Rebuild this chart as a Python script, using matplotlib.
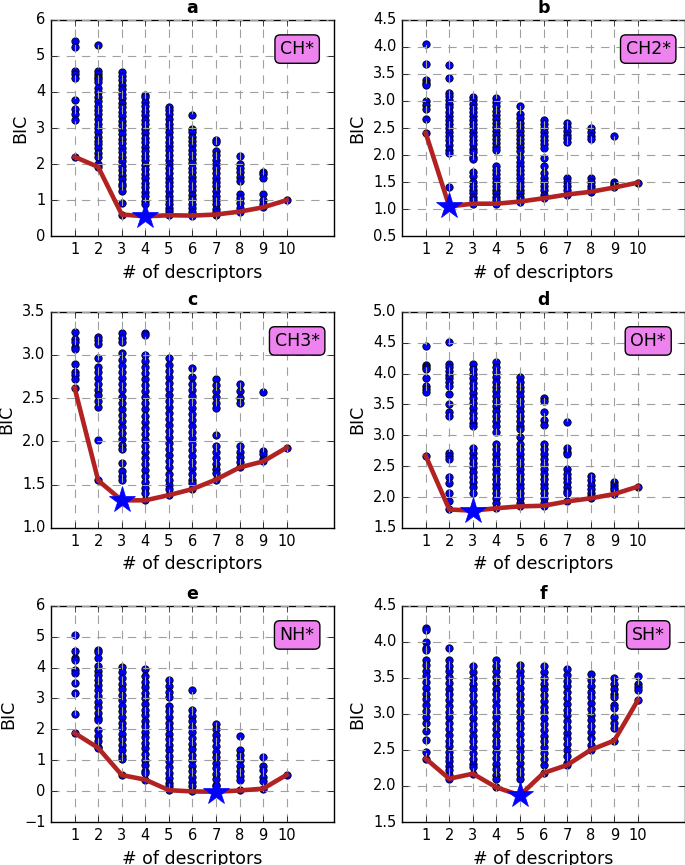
import numpy as np
import matplotlib
matplotlib.use('Agg')
import matplotlib.pyplot as plt

plt.style.use('classic')
plt.rcParams['figure.facecolor'] = 'white'
plt.rcParams['savefig.facecolor'] = 'white'
plt.rcParams['font.family'] = ['DejaVu Sans']

n_desc = [1, 2, 3, 4, 5, 6, 7, 8, 9, 10]

# BIC values of every model, one list per number of descriptors
a_pts = [
    [5.42, 5.26, 4.59, 4.49, 4.40, 3.77, 3.53, 3.40, 3.23, 2.20],
    [5.30, 4.58, 4.50, 4.42, 4.35, 4.28, 4.10, 4.00, 3.86, 3.75, 3.62, 3.50, 3.38, 3.25, 3.12, 3.00, 2.88, 2.76,
     2.65, 2.56, 2.44, 2.32, 2.20, 2.00, 1.92],
    [4.56, 4.45, 4.32, 4.20, 4.08, 3.95, 3.83, 3.70, 3.58, 3.45, 3.33, 3.20, 3.08, 2.95, 2.83, 2.70, 2.58, 2.45,
     2.33, 2.20, 2.08, 1.95, 1.83, 1.70, 1.58, 1.45, 1.40, 1.24, 0.93, 0.60],
    [3.93, 3.85, 3.72, 3.60, 3.48, 3.35, 3.22, 3.10, 2.98, 2.85, 2.72, 2.60, 2.48, 2.35, 2.22, 2.10, 1.98, 1.85,
     1.72, 1.60, 1.48, 1.35, 1.22, 1.10, 0.98, 0.88, 0.55],
    [3.58, 3.50, 3.38, 3.25, 3.12, 3.00, 2.88, 2.75, 2.62, 2.50, 2.38, 2.25, 2.12, 2.00, 1.88, 1.75, 1.62, 1.50,
     1.38, 1.25, 1.12, 1.00, 0.88, 0.78, 0.70, 0.58],
    [3.35, 2.98, 2.88, 2.76, 2.65, 2.52, 2.40, 2.28, 2.15, 2.02, 1.90, 1.78, 1.65, 1.52, 1.40, 1.28, 1.15, 1.02,
     0.90, 0.78, 0.68, 0.57],
    [2.68, 2.60, 2.37, 2.25, 2.12, 2.00, 1.88, 1.75, 1.62, 1.50, 1.38, 1.25, 1.12, 1.00, 0.88, 0.76, 0.66, 0.60],
    [2.23, 2.00, 1.90, 1.78, 1.65, 1.53, 1.16, 1.05, 0.92, 0.79, 0.68],
    [1.79, 1.72, 1.62, 1.18, 1.00, 0.88, 0.80],
    [1.00],
]

b_pts = [
    [4.05, 3.68, 3.39, 3.33, 3.30, 3.00, 2.93, 2.85, 2.66, 2.41],
    [3.67, 3.42, 3.15, 3.10, 3.02, 2.95, 2.88, 2.80, 2.72, 2.65, 2.58, 2.50, 2.42, 2.35, 2.27, 2.18, 2.10, 2.03,
     1.40, 1.05],
    [3.08, 3.02, 2.95, 2.87, 2.80, 2.72, 2.65, 2.57, 2.50, 2.42, 2.35, 2.27, 2.20, 2.12, 2.05, 1.97, 1.93, 1.68,
     1.62, 1.50, 1.43, 1.36, 1.29, 1.22, 1.16, 1.10],
    [3.05, 2.98, 2.90, 2.82, 2.75, 2.67, 2.60, 2.52, 2.45, 2.37, 2.30, 2.22, 2.15, 2.10, 1.80, 1.72, 1.65, 1.58,
     1.50, 1.43, 1.36, 1.29, 1.22, 1.16, 1.10],
    [2.90, 2.76, 2.68, 2.60, 2.52, 2.45, 2.37, 2.30, 2.22, 2.15, 2.07, 1.97, 1.88, 1.80, 1.72, 1.65, 1.58, 1.50,
     1.43, 1.36, 1.29, 1.22, 1.16, 1.14],
    [2.65, 2.58, 2.50, 2.42, 2.35, 2.27, 2.20, 2.13, 1.94, 1.80, 1.67, 1.58, 1.50, 1.43, 1.36, 1.27, 1.20],
    [2.60, 2.52, 2.45, 2.38, 2.31, 2.25, 1.58, 1.50, 1.43, 1.36, 1.27],
    [2.50, 2.43, 2.36, 2.30, 1.58, 1.50, 1.43, 1.37, 1.32],
    [2.36, 1.50, 1.46, 1.42, 1.40],
    [1.49],
]

c_pts = [
    [3.27, 3.19, 3.15, 3.09, 3.07, 2.90, 2.80, 2.77, 2.72, 2.62],
    [3.21, 3.17, 3.13, 2.96, 2.86, 2.80, 2.73, 2.66, 2.60, 2.54, 2.47, 2.40, 2.02, 1.55],
    [3.25, 3.20, 3.15, 3.02, 2.94, 2.87, 2.80, 2.73, 2.66, 2.59, 2.52, 2.45, 2.38, 2.31, 2.24, 2.17, 2.10, 2.03,
     1.96, 1.91, 1.75, 1.66, 1.60, 1.55, 1.32],
    [3.25, 3.23, 3.00, 2.93, 2.86, 2.79, 2.72, 2.65, 2.58, 2.51, 2.44, 2.37, 2.30, 2.23, 2.16, 2.09, 2.02, 1.95,
     1.88, 1.81, 1.74, 1.67, 1.60, 1.53, 1.46, 1.41, 1.32],
    [2.96, 2.89, 2.82, 2.75, 2.68, 2.61, 2.54, 2.47, 2.40, 2.33, 2.26, 2.19, 2.12, 2.05, 1.98, 1.91, 1.84, 1.77,
     1.70, 1.63, 1.56, 1.50, 1.45, 1.38],
    [2.85, 2.74, 2.67, 2.60, 2.53, 2.46, 2.39, 2.32, 2.25, 2.18, 2.11, 2.04, 1.97, 1.90, 1.83, 1.76, 1.69, 1.62,
     1.56, 1.52, 1.45],
    [2.72, 2.65, 2.58, 2.51, 2.45, 2.39, 2.08, 1.95, 1.88, 1.81, 1.74, 1.68, 1.64, 1.56],
    [2.66, 2.58, 2.50, 2.44, 1.95, 1.88, 1.82, 1.76, 1.70],
    [2.57, 1.89, 1.85, 1.80, 1.77],
    [1.93],
]

d_pts = [
    [4.44, 4.14, 4.10, 4.08, 3.93, 3.80, 3.75, 3.70, 2.67],
    [4.51, 4.16, 4.10, 4.04, 3.98, 3.92, 3.86, 3.80, 3.67, 3.51, 3.37, 3.32, 2.72, 2.66, 2.61, 2.32, 2.23, 2.06,
     1.93, 1.80],
    [4.16, 4.08, 4.00, 3.92, 3.84, 3.76, 3.68, 3.60, 3.52, 3.44, 3.36, 3.28, 3.20, 3.15, 2.80, 2.72, 2.64, 2.56,
     2.48, 2.40, 2.32, 2.24, 2.16, 2.07, 1.78],
    [4.19, 4.11, 4.03, 3.95, 3.87, 3.79, 3.71, 3.63, 3.55, 3.47, 3.39, 3.31, 3.23, 3.15, 3.05, 2.86, 2.78, 2.70,
     2.62, 2.54, 2.46, 2.38, 2.30, 2.22, 2.14, 2.06, 1.98, 1.90, 1.82],
    [3.95, 3.87, 3.79, 3.71, 3.63, 3.55, 3.47, 3.39, 3.31, 3.23, 3.15, 3.10, 2.97, 2.86, 2.78, 2.70, 2.62, 2.54,
     2.46, 2.38, 2.30, 2.22, 2.14, 2.06, 1.98, 1.90, 1.85],
    [3.61, 3.55, 3.37, 3.24, 3.16, 2.86, 2.78, 2.70, 2.62, 2.54, 2.46, 2.38, 2.30, 2.22, 2.14, 2.06, 1.98, 1.90,
     1.86],
    [3.21, 2.80, 2.73, 2.69, 2.45, 2.38, 2.31, 2.24, 2.17, 2.10, 2.07, 1.93],
    [2.34, 2.27, 2.20, 2.13, 2.06, 2.02, 1.98],
    [2.24, 2.19, 2.15, 2.12, 2.05],
    [2.17],
]

e_pts = [
    [5.06, 4.52, 4.32, 4.25, 3.93, 3.82, 3.50, 3.18, 2.50, 1.88],
    [4.58, 4.50, 4.31, 4.04, 3.90, 3.76, 3.60, 3.44, 3.26, 3.08, 2.90, 2.72, 2.54, 2.36, 2.31, 1.98, 1.80, 1.62,
     1.44, 1.40],
    [4.02, 3.84, 3.66, 3.48, 3.30, 3.12, 2.94, 2.76, 2.58, 2.40, 2.22, 2.04, 1.86, 1.68, 1.50, 1.32, 1.13, 1.05,
     0.52],
    [3.95, 3.72, 3.54, 3.36, 3.18, 3.00, 2.82, 2.64, 2.46, 2.28, 2.10, 1.92, 1.74, 1.56, 1.38, 1.20, 1.02, 0.84,
     0.66, 0.59, 0.37],
    [3.60, 3.39, 3.22, 3.06, 2.76, 2.58, 2.40, 2.22, 2.04, 1.86, 1.68, 1.50, 1.32, 1.14, 0.96, 0.78, 0.60, 0.42,
     0.25, 0.15, 0.03],
    [3.28, 2.64, 2.44, 2.26, 2.08, 1.90, 1.72, 1.54, 1.36, 1.18, 1.00, 0.82, 0.64, 0.46, 0.28, 0.15, -0.01],
    [2.17, 2.00, 1.82, 1.64, 1.46, 1.28, 1.10, 0.92, 0.74, 0.56, 0.38, 0.20, 0.15, -0.02],
    [1.77, 1.34, 1.18, 1.02, 0.80, 0.64, 0.50, 0.37, 0.02],
    [1.10, 0.82, 0.69, 0.46, 0.32, 0.08],
    [0.53],
]

f_pts = [
    [4.19, 4.16, 4.00, 3.92, 3.89, 3.75, 3.68, 3.60, 3.52, 3.44, 3.36, 3.28, 3.20, 3.12, 3.04, 2.96, 2.88, 2.76,
     2.64, 2.47, 2.38],
    [3.91, 3.75, 3.67, 3.59, 3.51, 3.43, 3.35, 3.27, 3.19, 3.11, 3.03, 2.95, 2.87, 2.79, 2.71, 2.63, 2.55, 2.47,
     2.40, 2.34, 2.28, 2.22, 2.15, 2.10],
    [3.66, 3.58, 3.50, 3.42, 3.34, 3.26, 3.18, 3.10, 3.02, 2.94, 2.86, 2.78, 2.70, 2.62, 2.54, 2.46, 2.38, 2.30,
     2.27, 2.17],
    [3.75, 3.67, 3.59, 3.51, 3.43, 3.35, 3.27, 3.19, 3.11, 3.03, 2.95, 2.87, 2.79, 2.71, 2.63, 2.55, 2.47, 2.39,
     2.31, 2.23, 2.15, 2.09, 1.98],
    [3.68, 3.60, 3.52, 3.44, 3.36, 3.28, 3.20, 3.12, 3.04, 2.96, 2.88, 2.80, 2.72, 2.64, 2.56, 2.48, 2.40, 2.32,
     2.24, 2.16, 2.09, 1.87],
    [3.66, 3.58, 3.50, 3.42, 3.34, 3.26, 3.18, 3.10, 3.02, 2.94, 2.86, 2.78, 2.70, 2.62, 2.54, 2.46, 2.38, 2.29,
     2.18],
    [3.62, 3.54, 3.46, 3.38, 3.30, 3.22, 3.14, 3.06, 2.98, 2.90, 2.82, 2.74, 2.66, 2.58, 2.50, 2.42, 2.32, 2.29],
    [3.55, 3.47, 3.39, 3.31, 3.23, 3.15, 3.07, 2.99, 2.91, 2.83, 2.75, 2.67, 2.57, 2.50],
    [3.50, 3.42, 3.35, 3.28, 3.24, 3.12, 3.08, 2.96, 2.88, 2.80, 2.63],
    [3.52, 3.42, 3.37, 3.33, 3.19],
]

panel_letters = ['a', 'b', 'c', 'd', 'e', 'f']
adsorbates = ['CH*', 'CH2*', 'CH3*', 'OH*', 'NH*', 'SH*']
all_pts = [a_pts, b_pts, c_pts, d_pts, e_pts, f_pts]
y_ranges = [(0, 6, 1), (0.5, 4.5, 0.5), (1.0, 3.5, 0.5), (1.5, 5.0, 0.5), (-1, 6, 1), (1.5, 4.5, 0.5)]

fig = plt.figure(figsize=(6.85, 8.65), dpi=100)

lefts = [0.0745, 0.587]
bottoms = [0.727, 0.3896, 0.0497]
w, h = 0.413, 0.25

for i in range(6):
    ax = fig.add_axes([lefts[i % 2], bottoms[i // 2], w, h])
    pts = all_pts[i]
    for k, col in enumerate(pts):
        ax.scatter([n_desc[k]] * len(col), col, s=28, c='blue', edgecolors='black',
                   linewidths=0.6, zorder=1)
    best = [min(col) for col in pts]
    ax.plot(n_desc, best, color='#b22222', lw=3.3, zorder=3)
    kbest = int(np.argmin(best))
    ax.plot(n_desc[kbest], best[kbest], marker='*', ms=20, color='blue',
            markeredgecolor='blue', ls='none', zorder=4)

    ax.grid(True, color='#a0a0a0', ls='--', lw=0.8, dashes=(6, 5))
    ax.set_axisbelow(False)
    ax.set_xlim(0, 12)
    ax.set_xticks(n_desc)
    y0, y1, st = y_ranges[i]
    ax.set_ylim(y0, y1)
    yt = np.arange(y0, y1 + st / 2, st)
    ax.set_yticks(yt)
    if st < 1:
        ax.set_yticklabels(['%.1f' % v for v in yt])
    ax.tick_params(labelsize=10.5)
    ax.set_xlabel('# of descriptors', fontsize=12.5)
    ax.set_ylabel('BIC', fontsize=12.5)
    ax.set_title(panel_letters[i], fontsize=12.5, fontweight='bold')
    ax.text(0.87, 0.865, adsorbates[i], transform=ax.transAxes, ha='center', va='center',
            fontsize=12.5, zorder=5,
            bbox=dict(boxstyle='round,pad=0.3', fc='violet', ec='black'))

fig.savefig('out.png', dpi=100)
